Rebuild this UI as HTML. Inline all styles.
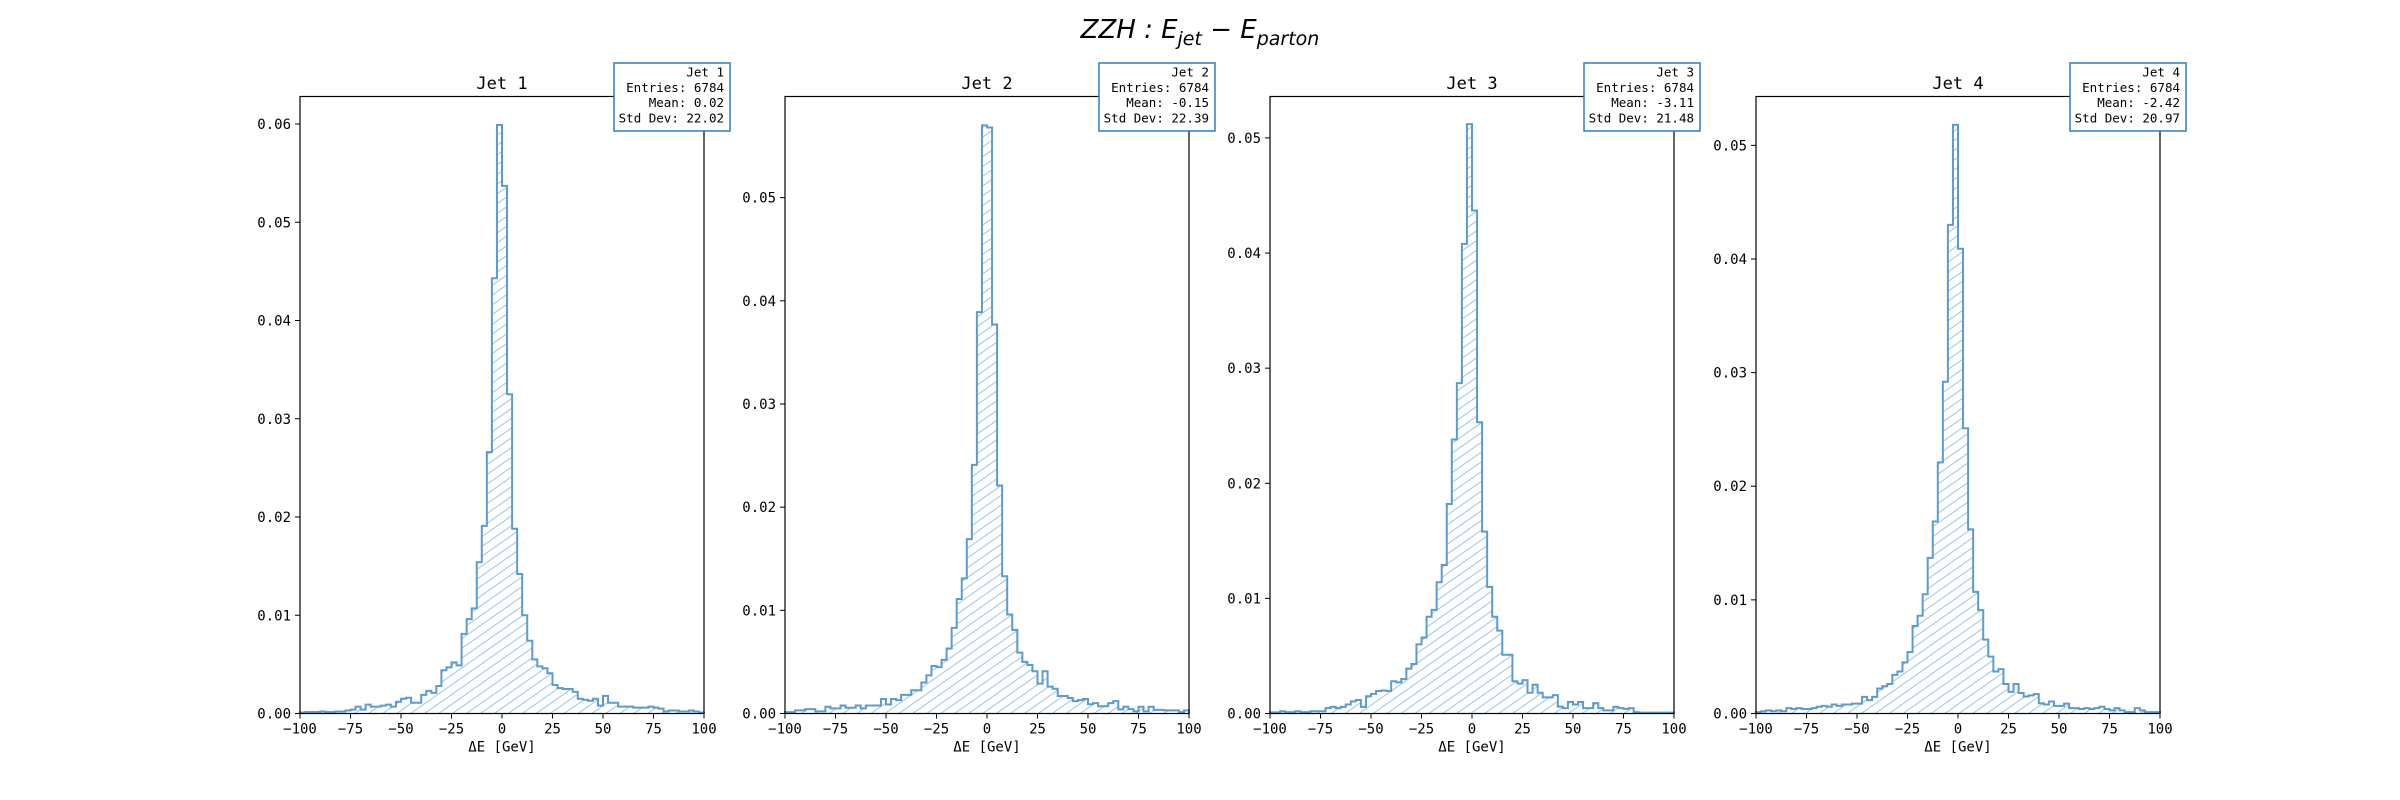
<!DOCTYPE html>
<html><head><meta charset="utf-8"><style>
html,body{margin:0;padding:0;background:#fff;}
svg{display:block;}
text{font-family:"DejaVu Sans Mono","Liberation Mono",monospace;fill:#000;}
</style></head><body>
<svg id="fig" width="2400" height="800" viewBox="0 0 2400 800" xmlns="http://www.w3.org/2000/svg">
<defs>
<pattern id="hatch" patternUnits="userSpaceOnUse" width="10" height="8" patternTransform="rotate(-35)">
<line x1="0" y1="4" x2="10" y2="4" stroke="#9fc3e4" stroke-width="1"/>
</pattern>
</defs>
<text x="1200" y="38" text-anchor="middle" style="font-family:'DejaVu Sans',sans-serif;font-style:italic;font-size:26px">ZZH : E<tspan font-size="19" dy="7">jet</tspan><tspan dy="-7" style="font-style:normal"> − </tspan>E<tspan font-size="19" dy="7">parton</tspan></text>
</svg>
<script>
const edges = [-100, 100];
const nbins = 80;
const xTicks = [-100, -75, -50, -25, 0, 25, 50, 75, 100];
const jetNames = ["Jet 1", "Jet 2", "Jet 3", "Jet 4"];
const entries = [6784, 6784, 6784, 6784];
const means = ["0.02", "-0.15", "-3.11", "-2.42"];
const stds = ["22.02", "22.39", "21.48", "20.97"];
const yMaxes = [0.0628, 0.0598, 0.0536, 0.0543];
const yTicks1 = [0, 0.01, 0.02, 0.03, 0.04, 0.05, 0.06];
const yTicks2 = [0, 0.01, 0.02, 0.03, 0.04, 0.05];
const yTicks3 = [0, 0.01, 0.02, 0.03, 0.04, 0.05];
const yTicks4 = [0, 0.01, 0.02, 0.03, 0.04, 0.05];
// bin densities, units of 1e-3
const jet1 = [0.1,0.15,0.15,0.15,0.2,0.15,0.15,0.2,0.2,0.3,
0.4,0.7,0.4,0.9,0.7,0.7,0.8,0.9,0.7,1.2,
1.5,1.6,1.1,1.1,1.9,2.3,2.1,2.8,4.4,4.7,
5.2,4.9,8.1,9.6,10.7,15.4,19.1,26.6,44.3,59.9,
53.7,32.5,18.8,14.2,10.0,7.4,5.5,4.8,4.6,4.1,
2.9,2.6,2.5,2.5,2.2,1.5,1.4,1.3,1.5,0.8,
1.8,1.1,1.1,0.7,0.7,0.7,0.6,0.6,0.6,0.7,
0.6,0.5,0.2,0.3,0.3,0.2,0.2,0.3,0.2,0.1];
const jet2 = [0.13,0.13,0.3,0.3,0.43,0.43,0.2,0.2,0.65,0.5,
0.5,0.78,0.56,0.56,0.78,0.5,0.78,0.78,0.78,1.4,
0.87,1.4,1.3,1.8,1.8,2.25,2.25,3.0,3.7,4.6,
4.5,5.2,6.3,8.3,11.1,13.1,16.9,24.1,38.9,57.0,
56.8,37.7,22.1,13.3,9.6,8.1,5.9,5.0,4.7,4.1,
2.9,4.1,2.6,2.4,1.7,1.7,1.5,1.2,1.3,1.4,
0.9,1.0,0.7,0.7,1.0,1.2,0.4,0.65,0.43,0.2,
0.65,0.2,0.65,0.35,0.35,0.3,0.3,0.3,0.13,0.3];
const jet3 = [0.1,0.1,0.2,0.12,0.12,0.2,0.12,0.12,0.2,0.2,
0.2,0.47,0.58,0.47,0.58,0.78,1.05,1.17,0.58,1.5,
1.7,1.95,2.0,1.95,2.8,2.7,3.0,3.9,4.3,6.0,
6.6,8.4,9.0,11.4,12.9,18.2,23.8,28.7,40.8,51.2,
43.7,25.3,15.8,11.0,8.4,7.2,5.1,5.1,2.8,2.6,
2.9,1.8,2.5,1.8,1.4,1.4,1.6,0.6,0.47,1.0,
0.78,1.0,0.47,0.47,0.9,0.47,0.27,0.27,0.58,0.47,
0.4,0.47,0.12,0.08,0.08,0.08,0.08,0.08,0.08,0.08];
const jet4 = [0.12,0.2,0.28,0.2,0.28,0.2,0.47,0.4,0.47,0.4,
0.4,0.47,0.59,0.67,0.59,0.79,0.67,0.79,0.79,0.87,
0.87,1.46,1.18,1.46,2.2,2.4,2.6,3.4,3.7,4.5,
5.4,7.7,8.6,10.5,13.7,16.9,22.1,29.2,43.0,51.8,
40.9,25.1,16.2,10.7,9.1,6.5,5.0,3.7,3.9,2.6,
1.9,2.6,1.8,1.5,1.6,1.7,0.9,0.79,1.06,0.67,
0.67,0.87,0.47,0.47,0.4,0.47,0.4,0.47,0.59,0.4,
0.28,0.47,0.28,0.12,0.12,0.47,0.28,0.12,0.12,0.12];

const series = [jet1, jet2, jet3, jet4];
const yTickSets = [yTicks1, yTicks2, yTicks3, yTicks4];
const NS = "http://www.w3.org/2000/svg";
const svg = document.getElementById('fig');
const panelLeft = [300, 785, 1270, 1756];
const panelW = 404, axTop = 96.5, axBottom = 713.5;

function mk(tag, attrs, parent){
  const e = document.createElementNS(NS, tag);
  for (const k in attrs) e.setAttribute(k, attrs[k]);
  (parent||svg).appendChild(e);
  return e;
}
function fmtY(v){ return v.toFixed(2); }

for (let p = 0; p < 4; p++) {
  const L = panelLeft[p], R = L + panelW;
  const ymax = yMaxes[p];
  const xs = v => L + (v - edges[0]) / (edges[1] - edges[0]) * panelW;
  const ys = v => axBottom - v / ymax * (axBottom - axTop);
  const g = mk('g', {});
  
  
  const data = series[p];
  const bw = (edges[1] - edges[0]) / nbins;
  let d = 'M' + xs(edges[0]) + ',' + ys(0);
  for (let i = 0; i < nbins; i++) {
    const v = data[i] / 1000;
    d += ' L' + xs(edges[0] + i*bw) + ',' + ys(v) + ' L' + xs(edges[0] + (i+1)*bw) + ',' + ys(v);
  }
  d += ' L' + xs(edges[1]) + ',' + ys(0);
  const fill = mk('path', {d: d + ' Z', fill: 'url(#hatch)', stroke: 'none'}, g);
  
  
  const line = mk('path', {d: d, fill: 'none', stroke: '#5b9bd1', 'stroke-width': 2, 'stroke-linejoin': 'miter'}, g);
  
  
  const frame = mk('rect', {x: L, y: axTop, width: panelW, height: axBottom - axTop, fill: 'none', stroke: '#000', 'stroke-width': 1.2}, g);
  
  
  xTicks.forEach(t => {
    const x = xs(t);
    mk('line', {x1: x, y1: axBottom, x2: x, y2: axBottom + 5, stroke: '#000', 'stroke-width': 1}, g);
    const tx = mk('text', {x: x, y: axBottom + 20, 'text-anchor': 'middle', 'font-size': 14}, g);
    tx.textContent = t < 0 ? '\u2212' + Math.abs(t) : String(t);
    
    
  });
  yTickSets[p].forEach(t => {
    const y = ys(t);
    mk('line', {x1: L - 5, y1: y, x2: L, y2: y, stroke: '#000', 'stroke-width': 1}, g);
    const ty = mk('text', {x: L - 9, y: y + 5, 'text-anchor': 'end', 'font-size': 14}, g);
    ty.textContent = fmtY(t);
    
    
  });
  const xl = mk('text', {x: L + panelW/2, y: axBottom + 38, 'text-anchor': 'middle', 'font-size': 14}, g);
  xl.textContent = '\u0394E [GeV]';
  
  
  const tt = mk('text', {x: L + panelW/2, y: 89, 'text-anchor': 'middle', 'font-size': 17}, g);
  tt.textContent = jetNames[p];
  
  
  const bx = R - 90;
  const box = mk('rect', {x: bx, y: 63, width: 116, height: 68, fill: '#fff', stroke: '#2a7fc0', 'stroke-width': 1.5}, g);
  
  
  const lines = [jetNames[p], 'Entries: ' + entries[p], 'Mean: ' + means[p], 'Std Dev: ' + stds[p]];
  lines.forEach((s, i) => {
    const st = mk('text', {x: bx + 110, y: 76.5 + i*15.3, 'text-anchor': 'end', 'font-size': 12.5}, g);
    st.textContent = s;
    
    
  });
}
</script>
</body></html>
